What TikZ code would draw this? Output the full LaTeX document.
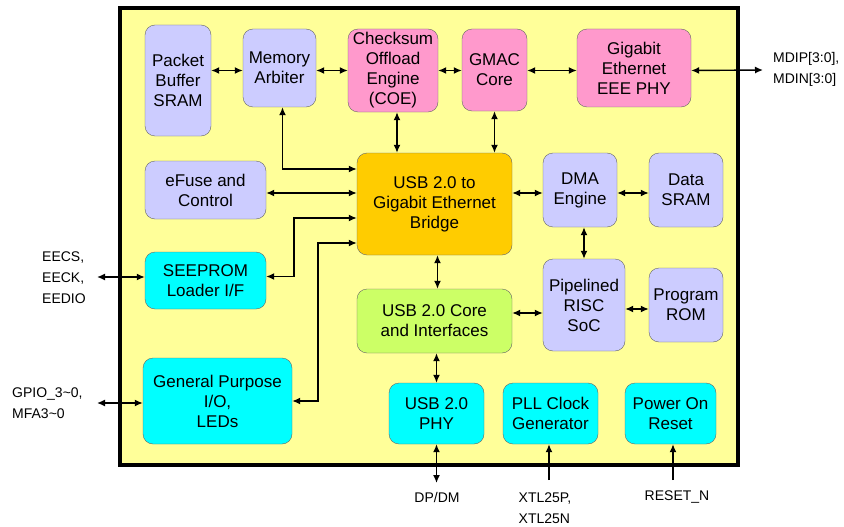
\documentclass[tikz,border=0pt]{standalone}
\usepackage{fontspec}
\setmainfont{Liberation Sans}
\usepackage{tikz}
\usetikzlibrary{arrows.meta}
\definecolor{ylw}{RGB}{255,255,153}
\definecolor{lav}{RGB}{204,204,255}
\definecolor{pnk}{RGB}{255,153,204}
\definecolor{org}{RGB}{255,204,0}
\definecolor{cyn}{RGB}{0,255,255}
\definecolor{grn}{RGB}{204,255,102}
\tikzstyle{blk} = [draw=black!60, rounded corners=10pt, align=center, inner sep=2pt, font=\fontsize{17}{20}\selectfont]
\tikzstyle{lbl} = [align=left, inner sep=0pt, font=\fontsize{14}{21}\selectfont]
\tikzstyle{conn} = [{Latex[length=8pt,width=7pt]}-{Latex[length=8pt,width=7pt]}, line width=1.4pt]
\tikzstyle{conn1} = [-{Latex[length=8pt,width=7pt]}, line width=1.4pt]

\begin{document}
\begin{tikzpicture}[x=1pt, y=-1pt]
        \useasboundingbox (0,0) rectangle (844,527);
        \draw [line width=4pt, fill=ylw] (120,8) rectangle (738,465);
        \node (pbuf) [blk, fill=lav, minimum width=66, minimum height=111] at (178,80.5) {Packet\\Buffer\\SRAM};
        \node (arb) [blk, fill=lav, minimum width=73, minimum height=78] at (279.5,68) {Memory\\Arbiter};
        \node (coe) [blk, fill=pnk, minimum width=90, minimum height=83] at (393,70.5) {Checksum\\Offload\\Engine\\(COE)};
        \node (gmac) [blk, fill=pnk, minimum width=65, minimum height=82] at (494.5,70) {GMAC\\Core};
        \node (gphy) [blk, fill=pnk, minimum width=114, minimum height=78] at (634,68) {Gigabit\\Ethernet\\EEE PHY};
        \node (bridge) [blk, fill=org, minimum width=155, minimum height=102] at (434.5,204) {USB 2.0 to\\Gigabit Ethernet\\Bridge};
        \node (efuse) [blk, fill=lav, minimum width=121, minimum height=58] at (205.5,190) {eFuse and\\Control};
        \node (seep) [blk, fill=cyn, minimum width=121, minimum height=57] at (205.5,280.5) {SEEPROM\\Loader I/F};
        \node (gpio) [blk, fill=cyn, minimum width=149, minimum height=86] at (217.5,401) {General Purpose\\I/O,\\LEDs};
        \node (usbc) [blk, fill=grn, minimum width=155, minimum height=64] at (434.5,321) {USB 2.0 Core\\and Interfaces};
        \node (dma) [blk, fill=lav, minimum width=74, minimum height=74] at (580,190) {DMA\\Engine};
        \node (dsram) [blk, fill=lav, minimum width=74, minimum height=74] at (686,190) {Data\\SRAM};
        \node (risc) [blk, fill=lav, minimum width=82, minimum height=92] at (584,305) {Pipelined\\RISC\\SoC};
        \node (prom) [blk, fill=lav, minimum width=74, minimum height=74] at (686,305) {Program\\ROM};
        \node (uphy) [blk, fill=cyn, minimum width=95, minimum height=61] at (436.5,413.5) {USB 2.0\\PHY};
        \node (pll) [blk, fill=cyn, minimum width=95, minimum height=61] at (550.5,413.5) {PLL Clock\\Generator};
        \node (por) [blk, fill=cyn, minimum width=91, minimum height=61] at (670.5,413.5) {Power On\\Reset};
        \coordinate (mdi) at (763,70);
        \coordinate (ee) at (97,277);
        \coordinate (gp) at (97,403);
        \coordinate (dp) at (436.5,483);
        \coordinate (xtl) at (549,480);
        \coordinate (rst) at (673,480);
        \node (mdil) [lbl, anchor=west] at (773,69) {MDIP[3:0],\\MDIN[3:0]};
        \node (eel) [lbl, anchor=west] at (42,278) {EECS,\\EECK,\\EEDIO};
        \node (gpl) [lbl, anchor=west] at (12,403) {GPIO\_3\textasciitilde0,\\MFA3\textasciitilde0};
        \node (dpl) [lbl] at (437,497) {DP/DM};
        \node (xtll) [lbl] at (545,508) {XTL25P,\\XTL25N};
        \node (rstl) [lbl] at (677,497) {RESET\_N};
        \draw [conn] (pbuf.east |- coe) -- (arb.west |- coe);
        \draw [conn] (arb.east |- coe) -- (coe.west);
        \draw [conn] (coe.east) -- (gmac.west |- coe);
        \draw [conn] (gmac.east |- coe) -- (gphy.west |- coe);
        \draw [conn] (gphy.east |- coe) -- (mdi);
        \draw [conn] ([xshift=4pt]coe.south) -- ([xshift=4pt]coe.south |- bridge.north);
        \draw [conn] (gmac.south) -- (gmac.south |- bridge.north);
        \draw [conn] ([xshift=3pt]arb.south) |- ([yshift=35pt]bridge.west);
        \draw [conn] ([yshift=-3pt]efuse.east) -- ([yshift=-3pt]efuse.east -| bridge.west);
        \draw [conn] ([yshift=-14pt]bridge.west) -- ++(-63,0) |- ([yshift=4pt]seep.east);
        \draw [conn] ([yshift=-39pt]bridge.west) -- ++(-39,0) |- (gpio.east);
        \draw [conn] ([xshift=3pt]bridge.south) -- ([xshift=3pt]usbc.north);
        \draw [conn] ([yshift=-3pt]dma.west -| bridge.east) -- ([yshift=-3pt]dma.west);
        \draw [conn] ([yshift=-3pt]dma.east) -- ([yshift=-3pt]dsram.west);
        \draw [conn] (risc.north) -- (risc.north |- dma.south);
        \draw [conn] ([yshift=8pt]usbc.east) -- ([yshift=8pt]usbc.east -| risc.west);
        \draw [conn] ([yshift=-4pt]risc.east) -- ([yshift=-4pt]prom.west);
        \draw [conn] (usbc.south -| uphy) -- (uphy.north);
        \draw [conn] (uphy.south) -- (dp);
        \draw [conn1] (xtl) -- (xtl |- pll.south);
        \draw [conn1] (rst) -- (rst |- por.south);
        \draw [conn] (ee) -- (ee -| seep.west);
        \draw [conn] (gp) -- (gp -| gpio.west);
    \end{tikzpicture}
\end{document}
